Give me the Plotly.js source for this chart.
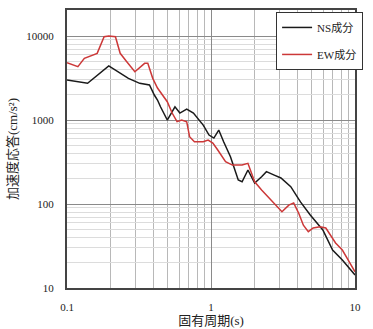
<!DOCTYPE html>
<html>
<head>
<meta charset="utf-8">
<script src="https://cdn.plot.ly/plotly-3.0.1.min.js"></script>
<style>html,body{margin:0;padding:0;background:#fff;}#chart{width:373px;height:329px;}</style>
</head>
<body>
<div id="chart"></div>
<script>
// NS component (period s, acceleration cm/s^2)
const nsPeriod = [0.1, 0.139, 0.195, 0.267, 0.32, 0.374, 0.404, 0.425, 0.446, 0.497, 0.562, 0.608, 0.678, 0.755, 0.883, 0.969, 1.047, 1.132, 1.224, 1.365, 1.546, 1.644, 1.805, 2.01, 2.246, 2.426, 2.75, 3.06, 3.58, 4.18, 4.89, 5.98, 6.99, 8.17, 10];
const nsAccel  = [3000, 2740, 4400, 3135, 2735, 2610, 1985, 1730, 1438, 1000, 1438, 1211, 1352, 1211, 871, 662, 610, 760, 552, 366, 193, 184, 254, 178, 211, 243, 221, 204, 161, 106, 74, 49, 28.3, 21.5, 14.3];
// EW component
const ewPeriod = [0.1, 0.119, 0.132, 0.151, 0.162, 0.181, 0.195, 0.217, 0.234, 0.26, 0.296, 0.346, 0.364, 0.394, 0.425, 0.497, 0.537, 0.581, 0.626, 0.678, 0.71, 0.767, 0.883, 0.955, 1.03, 1.114, 1.262, 1.408, 1.644, 1.805, 2.01, 2.246, 2.54, 2.84, 3.11, 3.47, 3.75, 4.06, 4.38, 4.74, 5.12, 5.71, 6.27, 7.33, 8.17, 9.1, 10];
const ewAccel  = [4810, 4315, 5430, 5945, 6225, 9810, 10000, 9810, 6225, 4945, 3760, 4730, 4730, 3135, 2405, 1652, 1211, 955, 1000, 955, 632, 552, 552, 578, 532, 439, 319, 291, 291, 305, 184, 147, 117, 93, 81, 97, 103, 78, 56, 46.8, 51.8, 53.7, 51.8, 34.4, 28.3, 20.6, 15.6];

const seriesNames = ['NS成分', 'EW成分'];
const xTickVals = [0.1, 1, 10];
const xTickText = ['0.1', '1', '10'];
const yTickVals = [10, 100, 1000, 10000];
const yTickText = ['10', '100', '1000', '10000'];

const FONT = '"Liberation Serif", "Noto Sans CJK JP", serif';

const traces = [
  {x: nsPeriod, y: nsAccel, name: seriesNames[0], type: 'scatter', mode: 'lines',
   line: {color: '#1a1a1a', width: 1.5}, legendgroup: 'a'},
  {x: ewPeriod, y: ewAccel, name: seriesNames[1], type: 'scatter', mode: 'lines',
   line: {color: '#cc3838', width: 1.5}, legendgroup: 'b'}
];

const layout = {
  width: 373, height: 329,
  margin: {l: 67, r: 10, t: 10, b: 41},
  paper_bgcolor: '#fff', plot_bgcolor: '#fff',
  font: {family: FONT, color: '#222', size: 11},
  showlegend: true,
  legend: {x: 0.726, y: 0.993, xanchor: 'left', yanchor: 'top',
    bgcolor: '#fff', bordercolor: '#333', borderwidth: 1,
    font: {family: FONT, size: 11, color: '#222'},
    tracegroupgap: 8, traceorder: 'grouped'},
  xaxis: {
    type: 'log', range: [-1, 1],
    tickvals: xTickVals, ticktext: xTickText,
    ticks: '', ticklabelstandoff: 8,
    showgrid: true, gridcolor: '#8a8a8a', gridwidth: 1,
    minor: {dtick: 'D1', showgrid: true, gridcolor: '#b8b8b8', gridwidth: 1, ticks: ''},
    showline: true, linecolor: '#444', linewidth: 2, mirror: true,
    zeroline: false,
    title: {text: '固有周期(s)', font: {family: FONT, size: 13, color: '#222'}, standoff: 2}
  },
  yaxis: {
    type: 'log', range: [1, 4.31],
    tickvals: yTickVals, ticktext: yTickText,
    ticks: '', ticklabelstandoff: 9,
    showgrid: true, gridcolor: '#8a8a8a', gridwidth: 1,
    minor: {dtick: 'D1', showgrid: true, gridcolor: '#dcdcdc', gridwidth: 1, ticks: ''},
    showline: true, linecolor: '#444', linewidth: 2, mirror: true,
    zeroline: false,
    title: {text: '加速度応答(cm/s²)', font: {family: FONT, size: 13, color: '#222'}, standoff: 6}
  }
};

Plotly.newPlot('chart', traces, layout, {displayModeBar: false, staticPlot: true});
</script>
</body>
</html>
